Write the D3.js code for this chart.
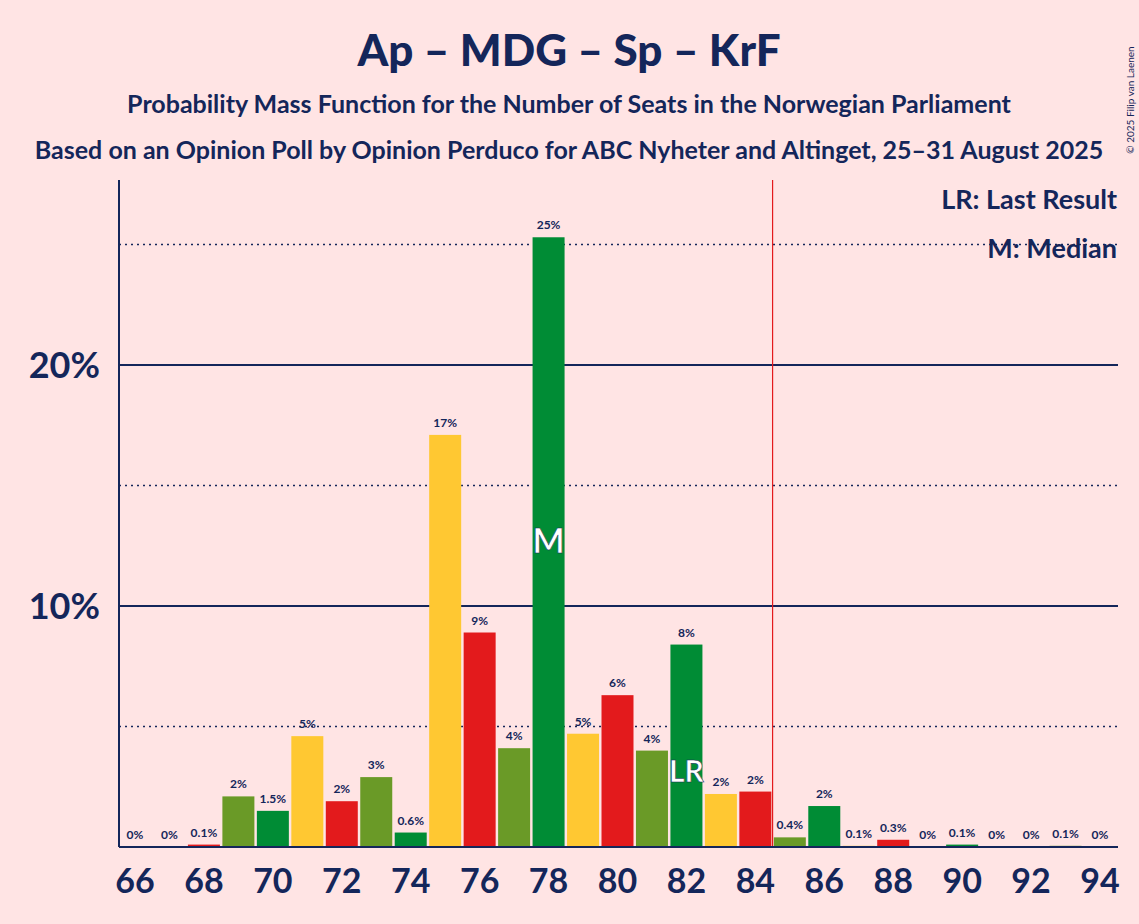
<!DOCTYPE html>
<html><head><meta charset="utf-8">
<script src="https://cdn.jsdelivr.net/npm/d3@7"></script>
<style>body{margin:0;background:#ffe4e4;}svg{display:block;font-family:Lato,"Open Sans",sans-serif;}</style>
</head><body><svg id="c" width="1139" height="924"></svg>
<script>
const seats=[66,67,68,69,70,71,72,73,74,75,76,77,78,79,80,81,82,83,84,85,86,87,88,89,90,91,92,93,94];
const probs=[0.02,0.02,0.1,2.1,1.5,4.6,1.9,2.9,0.6,17.1,8.9,4.1,25.3,4.7,6.3,4.0,8.4,2.2,2.3,0.4,1.7,0.05,0.3,0.02,0.1,0.01,0.01,0.05,0.01];
const labels=["0%","0%","0.1%","2%","1.5%","5%","2%","3%","0.6%","17%","9%","4%","25%","5%","6%","4%","8%","2%","2%","0.4%","2%","0.1%","0.3%","0%","0.1%","0%","0%","0.1%","0%"];
const xTicks=[66,68,70,72,74,76,78,80,82,84,86,88,90,92,94];
const yTicks=[10,20];
const dotTicks=[5,15,25];
const colors=["#e31a1c","#6a9a27","#008c35","#ffc832"];
const medianSeat=78,lastResult=82,majority=85;
const navy="#14265a";
const svg=d3.select("#c");
const x=d3.scaleLinear().domain([66,94]).range([135,1100]);
const y=d3.scaleLinear().domain([0,25]).range([847,244.5]);
const bw=32;
svg.append("text").attr("x",569).attr("y",66).attr("text-anchor","middle").attr("font-size",44).attr("font-weight",900).attr("fill",navy).text("Ap – MDG – Sp – KrF");
svg.append("text").attr("x",569).attr("y",113).attr("text-anchor","middle").attr("font-size",25).attr("font-weight",700).attr("fill",navy).text("Probability Mass Function for the Number of Seats in the Norwegian Parliament");
svg.append("text").attr("x",569).attr("y",159).attr("text-anchor","middle").attr("font-size",25).attr("font-weight",700).attr("fill",navy).text("Based on an Opinion Poll by Opinion Perduco for ABC Nyheter and Altinget, 25–31 August 2025");
svg.append("text").attr("transform","translate(1134,100) rotate(-90)").attr("text-anchor","middle").attr("font-size",10).attr("fill",navy).text("© 2025 Filip van Laenen");
dotTicks.forEach(t=>svg.append("line").attr("x1",119).attr("x2",1118).attr("y1",y(t)).attr("y2",y(t)).attr("stroke",navy).attr("stroke-width",1.5).attr("stroke-dasharray","2,4"));
yTicks.forEach(t=>{svg.append("line").attr("x1",119).attr("x2",1118).attr("y1",y(t)).attr("y2",y(t)).attr("stroke",navy).attr("stroke-width",2);
 svg.append("text").attr("x",100).attr("y",y(t)+13).attr("text-anchor","end").attr("font-size",36).attr("font-weight",700).attr("fill",navy).text(t+"%");});
svg.selectAll("rect.b").data(seats).enter().append("rect").attr("x",d=>x(d)-bw/2).attr("width",bw)
 .attr("y",(d,i)=>y(probs[i])).attr("height",(d,i)=>y(0)-y(probs[i])).attr("fill",d=>colors[((d%4)+4)%4]);
svg.selectAll("text.l").data(seats).enter().append("text").attr("x",d=>x(d)).attr("y",(d,i)=>y(probs[i])-8)
 .attr("text-anchor","middle").attr("font-size",12).attr("font-weight",700).attr("fill",navy).text((d,i)=>labels[i]);
const mi=seats.indexOf(medianSeat);
svg.append("text").attr("x",x(medianSeat)).attr("y",y(12.2)).attr("text-anchor","middle").attr("font-size",34).attr("font-weight",700).attr("fill","#fff").attr("stroke",navy).attr("stroke-width",0.5).text("M");
svg.append("text").attr("x",x(lastResult)).attr("y",y(3.2)+12).attr("text-anchor","middle").attr("font-size",30).attr("font-weight",700).attr("fill","#fff").attr("stroke",navy).attr("stroke-width",0.5).text("LR");
svg.append("line").attr("x1",x(majority-0.5)).attr("x2",x(majority-0.5)).attr("y1",180).attr("y2",847).attr("stroke","#e31a1c").attr("stroke-width",1.2);
svg.append("line").attr("x1",119).attr("x2",119).attr("y1",180).attr("y2",847).attr("stroke",navy).attr("stroke-width",2);
svg.append("line").attr("x1",119).attr("x2",1118).attr("y1",847).attr("y2",847).attr("stroke",navy).attr("stroke-width",2);
xTicks.forEach(t=>svg.append("text").attr("x",x(t)).attr("y",893).attr("text-anchor","middle").attr("font-size",34).attr("font-weight",700).attr("fill",navy).text(t));
svg.append("text").attr("x",1117).attr("y",209).attr("text-anchor","end").attr("font-size",27).attr("font-weight",700).attr("fill",navy).text("LR: Last Result");
svg.append("text").attr("x",1117).attr("y",258).attr("text-anchor","end").attr("font-size",27).attr("font-weight",700).attr("fill",navy).text("M: Median");
</script></body></html>
